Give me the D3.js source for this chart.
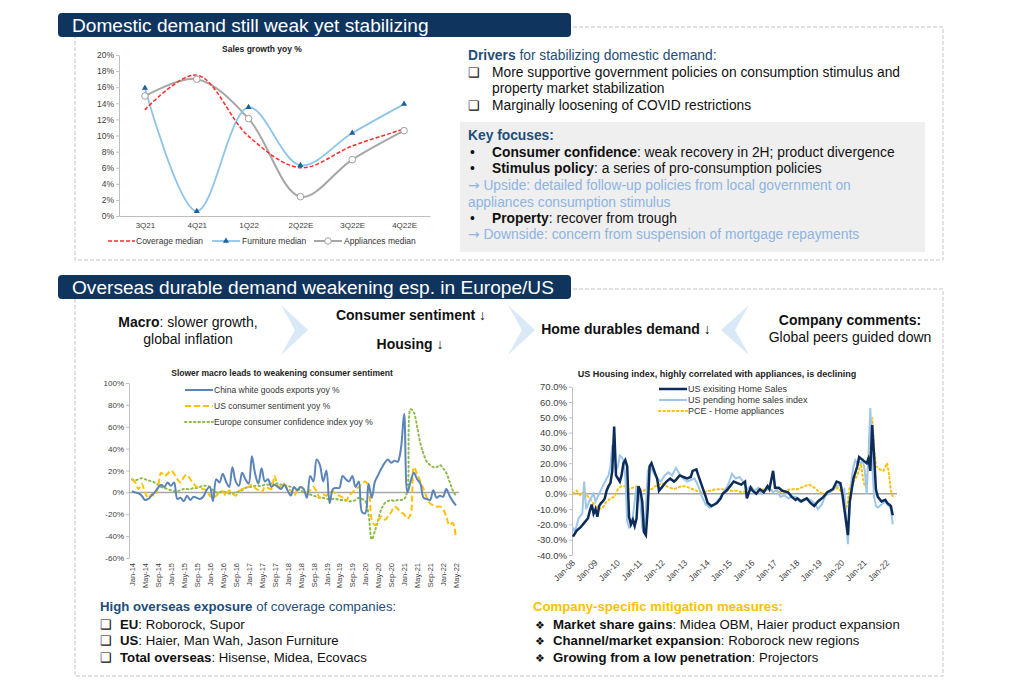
<!DOCTYPE html>
<html>
<head>
<meta charset="utf-8">
<script src="https://cdn.jsdelivr.net/npm/d3@7"></script>
<style>
  body { margin: 0; background: #fff; }
  text { font-family: "Liberation Sans", Arial, sans-serif; }
</style>
</head>
<body>
<div id="slide"></div>
<script>
// ---------- data: domestic sales growth ----------
const quarters = ["3Q21", "4Q21", "1Q22", "2Q22E", "3Q22E", "4Q22E"];
const coverageMedian = [13.2, 17.5, 9.9, 6.0, 8.7, 10.8];
const furnitureMedian = [15.9, 0.6, 13.5, 6.3, 10.3, 13.9];
const appliancesMedian = [14.9, 17.0, 12.1, 2.4, 7.0, 10.6];
const salesTicks = [0, 2, 4, 6, 8, 10, 12, 14, 16, 18, 20];

// ---------- data: macro / consumer sentiment (monthly Jan-14 .. May-22) ----------
const macroTicks = ["Jan-14","May-14","Sep-14","Jan-15","May-15","Sep-15","Jan-16","May-16","Sep-16",
  "Jan-17","May-17","Sep-17","Jan-18","May-18","Sep-18","Jan-19","May-19","Sep-19","Jan-20","May-20",
  "Sep-20","Jan-21","May-21","Sep-21","Jan-22","May-22"];
const macroYTicks = [-60, -40, -20, 0, 20, 40, 60, 80, 100];
const chinaExports = [1,0,-1,-3,-7,-6,-3,0,4,7,5,9,6,9,-6,-5,-8,-3,-7,-4,-5,-6,-4,2,5,-8,12,9,17,10,
  5,23,10,6,18,12,8,33,17,8,22,10,12,5,7,5,3,7,2,-3,5,2,5,3,-5,15,10,30,25,10,
  20,-10,3,4,4,15,12,10,15,5,10,-18,-19,8,-5,10,16,22,27,30,27,29,28,40,72,0,10,18,12,8,
  -5,-6,-7,2,-5,-3,-4,3,-3,-8,-12];
const usSentiment = [12,9,3,8,0,-5,-2,-3,5,18,15,17,20,17,12,9,14,16,12,8,5,4,3,2,-3,-5,-3,0,1,-3,
  2,-1,-3,1,3,4,5,7,4,2,0,5,4,3,15,6,5,8,3,2,-3,2,5,3,0,2,5,1,-5,-2,
  -3,0,1,-2,-3,-5,-8,-3,0,3,5,8,10,5,-25,-30,-26,-22,-25,-22,-18,-13,-15,-18,-20,-24,-20,23,17,10,
  3,-5,-10,-12,-13,-13,-15,-22,-30,-28,-42];
const europeConfidence = [12,11,12,13,12,11,10,9,7,5,4,3,2,1,1,2,3,3,3,4,4,5,6,6,5,2,0,0,1,0,
  -1,-1,0,1,2,4,5,5,6,6,6,7,7,8,8,8,7,7,6,5,4,3,2,0,-1,-2,-3,-4,-5,-5,
  -6,-6,-6,-6,-7,-7,-7,-8,-8,-7,-5,-6,-8,-20,-43,-35,-25,-15,-10,-8,-7,-8,-7,-7,-6,2,76,73,60,45,
  35,28,25,23,23,25,22,18,10,2,-3];

// ---------- data: US housing (monthly) ----------
const housingTicks = ["Jan-08","Jan-09","Jan-10","Jan-11","Jan-12","Jan-13","Jan-14","Jan-15",
  "Jan-16","Jan-17","Jan-18","Jan-19","Jan-20","Jan-21","Jan-22"];
const housingYTicks = [-40, -30, -20, -10, 0, 10, 20, 30, 40, 50, 60, 70];
const existingSales = [["2008-01",-28],["2008-03",-24],["2008-05",-22],["2008-07",-19],["2008-09",-16],
  ["2008-10",-11],["2008-11",-7],["2008-12",-13],["2009-01",-10],["2009-02",-15],["2009-03",-8],
  ["2009-04",-6],["2009-05",-5],["2009-06",-3],["2009-07",2],["2009-08",5],["2009-09",7],["2009-10",15],
  ["2009-11",44],["2009-12",12],["2010-01",10],["2010-02",8],["2010-03",12],["2010-04",20],["2010-05",22],
  ["2010-06",18],["2010-07",-15],["2010-08",-20],["2010-09",-17],["2010-10",-21],["2010-11",-16],
  ["2010-12",5],["2011-01",2],["2011-02",-5],["2011-03",-25],["2011-04",-27],["2011-05",-10],["2011-06",18],
  ["2011-07",20],["2011-09",13],["2011-10",10],["2011-11",2],["2012-01",5],["2012-03",8],["2012-05",10],
  ["2012-07",8],["2012-08",9],["2012-10",12],["2012-12",11],["2013-02",10],["2013-04",11],["2013-05",15],
  ["2013-07",16],["2013-08",12],["2013-10",5],["2013-12",-2],["2014-01",-6],["2014-03",-8],["2014-06",-6],
  ["2014-08",-3],["2014-09",0],["2014-11",2],["2015-01",5],["2015-03",8],["2015-05",7],["2015-07",6],
  ["2015-09",8],["2015-10",-3],["2015-12",4],["2016-01",2],["2016-03",0],["2016-05",3],["2016-07",1],
  ["2016-09",5],["2016-10",3],["2016-12",15],["2017-01",4],["2017-03",4],["2017-05",2],["2017-08",1],
  ["2017-10",-2],["2017-12",-4],["2018-01",-3],["2018-03",-5],["2018-06",-3],["2018-08",-6],["2018-10",-8],
  ["2018-12",-5],["2019-03",-2],["2019-05",1],["2019-08",3],["2019-10",8],["2019-12",7],["2020-01",0],
  ["2020-03",-18],["2020-04",-27],["2020-05",-5],["2020-07",10],["2020-09",18],["2020-10",24],["2020-12",22],
  ["2021-02",20],["2021-03",23],["2021-04",15],["2021-05",45],["2021-06",25],["2021-07",3],["2021-08",-2],
  ["2021-10",-5],["2021-12",-4],["2022-01",-6],["2022-03",-8],["2022-04",-14]];
const pendingSales = [["2008-01",-22],["2008-02",-25],["2008-04",-16],["2008-06",-13],["2008-07",8],
  ["2008-08",-10],["2008-10",-4],["2008-12",0],["2009-01",-5],["2009-03",0],["2009-05",5],["2009-07",10],
  ["2009-08",12],["2009-09",18],["2009-10",32],["2009-11",28],["2009-12",15],["2010-01",18],["2010-02",25],
  ["2010-03",24],["2010-04",22],["2010-05",12],["2010-06",-18],["2010-07",-22],["2010-08",-20],["2010-09",-15],
  ["2010-10",-5],["2010-11",5],["2010-12",0],["2011-01",-5],["2011-02",-22],["2011-03",-25],["2011-04",-10],
  ["2011-05",15],["2011-06",18],["2011-08",14],["2011-10",10],["2011-12",8],["2012-02",12],["2012-04",14],
  ["2012-06",12],["2012-08",17],["2012-10",13],["2012-12",10],["2013-02",8],["2013-04",9],["2013-06",10],
  ["2013-08",5],["2013-10",-2],["2013-12",-7],["2014-02",-9],["2014-04",-8],["2014-06",-5],["2014-08",-2],
  ["2014-10",2],["2014-12",6],["2015-02",13],["2015-04",10],["2015-06",11],["2015-08",8],["2015-10",3],
  ["2015-12",5],["2016-02",2],["2016-04",4],["2016-06",0],["2016-08",2],["2016-10",4],["2016-12",1],
  ["2017-02",3],["2017-04",-2],["2017-06",-1],["2017-08",-3],["2017-10",-2],["2017-12",-2],["2018-02",-5],
  ["2018-04",-4],["2018-06",-3],["2018-08",-4],["2018-10",-6],["2018-12",-10],["2019-02",-7],["2019-04",-1],
  ["2019-06",0],["2019-08",3],["2019-10",5],["2019-12",6],["2020-01",2],["2020-02",3],["2020-03",-15],
  ["2020-04",-33],["2020-05",-10],["2020-06",10],["2020-07",18],["2020-08",22],["2020-09",20],["2020-10",21],
  ["2020-11",20],["2020-12",22],["2021-01",15],["2021-02",0],["2021-03",25],["2021-04",56],["2021-05",20],
  ["2021-06",-2],["2021-07",-8],["2021-08",-9],["2021-10",-7],["2021-12",-5],["2022-01",-7],["2022-02",-8],
  ["2022-03",-10],["2022-04",-20]];
const pceAppliances = [["2008-01",0],["2008-03",2],["2008-05",-1],["2008-07",2],["2008-09",-2],["2008-11",-5],
  ["2009-01",-8],["2009-03",-10],["2009-05",-9],["2009-07",-5],["2009-09",-3],["2009-11",-2],["2010-01",3],
  ["2010-03",5],["2010-05",5],["2010-07",3],["2010-09",4],["2010-11",5],["2011-01",3],["2011-03",2],
  ["2011-05",4],["2011-07",3],["2011-09",5],["2011-11",6],["2012-01",7],["2012-03",5],["2012-05",4],
  ["2012-07",3],["2012-09",4],["2012-11",5],["2013-01",5],["2013-03",4],["2013-05",3],["2013-07",2],
  ["2013-09",1],["2013-11",1],["2014-01",2],["2014-03",2],["2014-05",3],["2014-09",3],["2015-01",2],
  ["2015-05",2],["2015-07",1],["2016-01",2],["2016-05",3],["2017-01",2],["2017-05",1],["2017-09",3],
  ["2018-01",3],["2018-05",5],["2018-07",6],["2018-09",5],["2018-11",3],["2019-01",1],["2019-03",0],
  ["2019-05",0],["2019-07",2],["2019-09",3],["2019-11",4],["2020-01",0],["2020-03",-10],["2020-04",-5],
  ["2020-05",5],["2020-07",8],["2020-09",12],["2020-11",20],["2020-12",10],["2021-01",5],["2021-02",10],
  ["2021-03",20],["2021-04",40],["2021-05",50],["2021-06",30],["2021-07",18],["2021-09",16],["2021-11",15],
  ["2022-01",20],["2022-02",12],["2022-03",2],["2022-04",-2]];

const navy = "#0f355e", textNavy = "#1f4e79";

const svg = d3.select("#slide").append("svg")
  .attr("width", 1024).attr("height", 680)
  .style("background", "#fff");

// ---------- frames and headers ----------
function sectionFrame(y0, y1, title, hy) {
  svg.append("rect").attr("x", 75).attr("y", y0).attr("width", 868).attr("height", y1 - y0)
    .attr("fill", "none").attr("stroke", "#c4c4c4").attr("stroke-dasharray", "4,2");
  svg.append("rect").attr("x", 58).attr("y", hy).attr("width", 513).attr("height", 24)
    .attr("rx", 4).attr("fill", navy);
  svg.append("text").attr("x", 72).attr("y", hy + 19).attr("font-size", 19.1)
    .attr("fill", "#fff").text(title);
}
sectionFrame(27, 260, "Domestic demand still weak yet stabilizing", 13);
sectionFrame(289, 676, "Overseas durable demand weakening esp. in Europe/US", 275);

// helper for mixed-weight lines of text
function richLine(x, y, parts, size, anchor) {
  const t = svg.append("text").attr("x", x).attr("y", y).attr("font-size", size || 13.8)
    .attr("text-anchor", anchor || "start");
  parts.forEach(p => {
    t.append("tspan").attr("font-weight", p.b ? "bold" : null)
      .attr("font-family", p.f || null)
      .attr("fill", p.c || "#111").text(p.t);
  });
  return t;
}

// ---------- top chart: sales growth ----------
const xQ = d3.scalePoint().domain(quarters).range([119, 430]).padding(0.5);
const yS = d3.scaleLinear().domain([0, 20]).range([216, 55]);

svg.append("text").attr("x", 262).attr("y", 52).attr("text-anchor", "middle")
  .attr("font-size", 8.5).attr("font-weight", "bold").attr("fill", "#222").text("Sales growth yoy %");

const gyS = svg.append("g").attr("transform", "translate(119,0)")
  .call(d3.axisLeft(yS).tickValues(salesTicks).tickFormat(d => d + "%").tickSize(3).tickSizeOuter(0));
gyS.selectAll("path,line").attr("stroke", "#bfbfbf");
gyS.selectAll("text").attr("font-size", 8.5).attr("fill", "#404040").attr("x", -5);

const gxS = svg.append("g").attr("transform", "translate(0,216)")
  .call(d3.axisBottom(xQ).tickSize(0).tickPadding(6).tickSizeOuter(0));
gxS.select("path").attr("stroke", "#bfbfbf");
gxS.selectAll("text").attr("font-size", 8).attr("fill", "#404040");

const lineS = d3.line().x((d, i) => xQ(quarters[i])).y(d => yS(d)).curve(d3.curveCatmullRom.alpha(0.5));
svg.append("path").datum(appliancesMedian).attr("d", lineS).attr("fill", "none")
  .attr("stroke", "#a6a6a6").attr("stroke-width", 2);
svg.append("path").datum(furnitureMedian).attr("d", lineS).attr("fill", "none")
  .attr("stroke", "#8fc4ea").attr("stroke-width", 1.8);
svg.append("path").datum(coverageMedian).attr("d", lineS).attr("fill", "none")
  .attr("stroke", "#ff2b2b").attr("stroke-width", 1.5).attr("stroke-dasharray", "4,2");
svg.selectAll(".appl").data(appliancesMedian).enter().append("circle")
  .attr("cx", (d, i) => xQ(quarters[i])).attr("cy", d => yS(d)).attr("r", 3.3)
  .attr("fill", "#fff").attr("stroke", "#a0a0a0").attr("stroke-width", 1);
svg.selectAll(".furn").data(furnitureMedian).enter().append("path")
  .attr("d", d3.symbol(d3.symbolTriangle).size(16))
  .attr("transform", (d, i) => `translate(${xQ(quarters[i])},${yS(d)})`).attr("fill", "#1f5fa0");

// legend
const legS = svg.append("g").attr("font-size", 8.5);
legS.append("line").attr("x1", 108).attr("x2", 135).attr("y1", 241).attr("y2", 241)
  .attr("stroke", "#ff2b2b").attr("stroke-width", 1.5).attr("stroke-dasharray", "4,2");
legS.append("text").attr("x", 136).attr("y", 244).attr("fill", "#333").text("Coverage median");
legS.append("line").attr("x1", 212).attr("x2", 240).attr("y1", 241).attr("y2", 241)
  .attr("stroke", "#8fc4ea").attr("stroke-width", 1.8);
legS.append("path").attr("d", d3.symbol(d3.symbolTriangle).size(16))
  .attr("transform", "translate(226,241)").attr("fill", "#1f5fa0");
legS.append("text").attr("x", 242).attr("y", 244).attr("fill", "#333").text("Furniture median");
legS.append("line").attr("x1", 314).attr("x2", 342).attr("y1", 241).attr("y2", 241)
  .attr("stroke", "#a6a6a6").attr("stroke-width", 2);
legS.append("circle").attr("cx", 328).attr("cy", 241).attr("r", 3.3)
  .attr("fill", "#fff").attr("stroke", "#a0a0a0");
legS.append("text").attr("x", 344).attr("y", 244).attr("fill", "#333").text("Appliances median");

// ---------- top right text ----------
const lightBlue = "#8db4e2";
const arrowFont = "DejaVu Sans";
richLine(468, 60, [{t: "Drivers", b: 1, c: textNavy}, {t: " for stabilizing domestic demand:", c: textNavy}]);
richLine(468, 77, [{t: "\u2751"}], 13);
richLine(492, 77, [{t: "More supportive government policies on consumption stimulus and"}]);
richLine(492, 93, [{t: "property market stabilization"}]);
richLine(468, 110, [{t: "\u2751"}], 13);
richLine(492, 110, [{t: "Marginally loosening of COVID restrictions"}]);

svg.append("rect").attr("x", 460).attr("y", 122).attr("width", 465).attr("height", 130).attr("fill", "#efefef");
richLine(468, 140, [{t: "Key focuses:", b: 1, c: textNavy}]);
richLine(470, 157, [{t: "\u2022"}]);
richLine(492, 157, [{t: "Consumer confidence", b: 1}, {t: ": weak recovery in 2H; product divergence"}]);
richLine(470, 173, [{t: "\u2022"}]);
richLine(492, 173, [{t: "Stimulus policy", b: 1}, {t: ": a series of pro-consumption policies"}]);
richLine(468, 190, [{t: "\u2192", f: arrowFont, c: lightBlue},
  {t: " Upside: detailed follow-up policies from local government on", c: lightBlue}]);
richLine(468, 207, [{t: "appliances consumption stimulus", c: lightBlue}]);
richLine(470, 223, [{t: "\u2022"}]);
richLine(492, 223, [{t: "Property", b: 1}, {t: ": recover from trough"}]);
richLine(468, 239, [{t: "\u2192", f: arrowFont, c: lightBlue},
  {t: " Downside: concern from suspension of mortgage repayments", c: lightBlue}]);

// ---------- flow row ----------
const chev = "#d9e9f7";
svg.append("path").attr("d", "M281,305 L308,330 L281,355 L295,330 Z").attr("fill", chev);
svg.append("path").attr("d", "M508,305 L535,330 L508,355 L522,330 Z").attr("fill", chev);
svg.append("path").attr("d", "M749,305 L721,330 L749,355 L735,330 Z").attr("fill", chev);
richLine(188, 327, [{t: "Macro", b: 1}, {t: ": slower growth,"}], 14, "middle");
richLine(188, 344, [{t: "global inflation"}], 14, "middle");
richLine(411, 320, [{t: "Consumer sentiment", b: 1}, {t: " \u2193"}], 14, "middle");
richLine(410, 349, [{t: "Housing", b: 1}, {t: " \u2193"}], 14, "middle");
richLine(626, 334, [{t: "Home durables demand", b: 1}, {t: " \u2193"}], 14, "middle");
richLine(850, 325, [{t: "Company comments:", b: 1}], 14, "middle");
richLine(850, 342, [{t: "Global peers guided down"}], 14, "middle");

// ---------- bottom left chart: macro ----------
const monthsM = d3.timeMonth.range(new Date(2014, 0, 1), new Date(2022, 5, 1)).map(d3.timeFormat("%b-%y"));
const xM = d3.scalePoint().domain(monthsM).range([132, 456]);
const yM = d3.scaleLinear().domain([-60, 100]).range([558, 383]);

svg.append("text").attr("x", 282).attr("y", 376).attr("text-anchor", "middle")
  .attr("font-size", 8.5).attr("font-weight", "bold").attr("fill", "#222")
  .text("Slower macro leads to weakening consumer sentiment");

const gyM = svg.append("g").attr("transform", "translate(129,0)")
  .call(d3.axisLeft(yM).tickValues(macroYTicks).tickFormat(d => d + "%").tickSize(3).tickSizeOuter(0));
gyM.selectAll("path,line").attr("stroke", "#bfbfbf");
gyM.selectAll("text").attr("font-size", 8).attr("fill", "#404040").attr("x", -5);

svg.append("line").attr("x1", 129).attr("x2", 459).attr("y1", yM(0)).attr("y2", yM(0))
  .attr("stroke", "#a6a6a6").attr("stroke-width", 1.5);

const gxM = svg.append("g").attr("transform", "translate(0,558)")
  .call(d3.axisBottom(xM).tickValues(macroTicks).tickSize(0).tickSizeOuter(0));
gxM.select("path").remove();
gxM.selectAll("text").attr("font-size", 7.5).attr("fill", "#404040")
  .attr("transform", "rotate(-90)").attr("text-anchor", "end")
  .attr("x", -5).attr("y", 0).attr("dy", "0.35em");

const lineM = d3.line().x((d, i) => xM(monthsM[i])).y(d => yM(d)).curve(d3.curveCatmullRom.alpha(0.5));
svg.append("path").datum(europeConfidence).attr("d", lineM).attr("fill", "none")
  .attr("stroke", "#8dbb4a").attr("stroke-width", 2).attr("stroke-dasharray", "1.5,3")
  .attr("stroke-linecap", "round");
svg.append("path").datum(usSentiment).attr("d", lineM).attr("fill", "none")
  .attr("stroke", "#ffc000").attr("stroke-width", 2).attr("stroke-dasharray", "6,3");
svg.append("path").datum(chinaExports).attr("d", lineM).attr("fill", "none")
  .attr("stroke", "#5b84b8").attr("stroke-width", 2);

const legM = svg.append("g").attr("font-size", 8.5).attr("fill", "#333");
legM.append("line").attr("x1", 185).attr("x2", 213).attr("y1", 390).attr("y2", 390)
  .attr("stroke", "#5b84b8").attr("stroke-width", 2);
legM.append("text").attr("x", 214).attr("y", 393).text("China white goods exports yoy %");
legM.append("line").attr("x1", 185).attr("x2", 213).attr("y1", 406).attr("y2", 406)
  .attr("stroke", "#ffc000").attr("stroke-width", 2).attr("stroke-dasharray", "6,3");
legM.append("text").attr("x", 214).attr("y", 409).text("US consumer sentiment yoy %");
legM.append("line").attr("x1", 185).attr("x2", 213).attr("y1", 422).attr("y2", 422)
  .attr("stroke", "#8dbb4a").attr("stroke-width", 2).attr("stroke-dasharray", "1.5,3")
  .attr("stroke-linecap", "round");
legM.append("text").attr("x", 214).attr("y", 425).text("Europe consumer confidence index yoy %");

// ---------- bottom right chart: US housing ----------
const parseM = d3.timeParse("%Y-%m");
const parseTick = d3.timeParse("%b-%y");
const xH = d3.scaleTime().domain([new Date(2008, 0, 1), new Date(2022, 4, 1)]).range([573, 894.6]);
const yH = d3.scaleLinear().domain([-40, 70]).range([555, 386.7]);

svg.append("text").attr("x", 717).attr("y", 377).attr("text-anchor", "middle")
  .attr("font-size", 9).attr("font-weight", "bold").attr("fill", "#222")
  .text("US Housing index, highly correlated with appliances, is declining");

const gyH = svg.append("g").attr("transform", "translate(572,0)")
  .call(d3.axisLeft(yH).tickValues(housingYTicks).tickFormat(d => d.toFixed(1) + "%").tickSize(3).tickSizeOuter(0));
gyH.selectAll("path,line").attr("stroke", "#bfbfbf");
gyH.selectAll("text").attr("font-size", 9.5).attr("fill", "#404040").attr("x", -5);

svg.append("line").attr("x1", 572).attr("x2", 897).attr("y1", yH(0)).attr("y2", yH(0))
  .attr("stroke", "#a6a6a6").attr("stroke-width", 1.5);

const gxH = svg.append("g").attr("transform", "translate(0,557)")
  .call(d3.axisBottom(xH).tickValues(housingTicks.map(parseTick)).tickFormat(d3.timeFormat("%b-%y"))
    .tickSize(0).tickSizeOuter(0));
gxH.select("path").remove();
gxH.selectAll("text").attr("font-size", 8.5).attr("fill", "#404040")
  .attr("transform", "rotate(-45)").attr("text-anchor", "end")
  .attr("x", -3).attr("y", 3).attr("dy", "0.35em");

const lineH = d3.line().x(d => xH(parseM(d[0]))).y(d => yH(d[1]));
svg.append("path").datum(pceAppliances).attr("d", lineH).attr("fill", "none")
  .attr("stroke", "#ffc000").attr("stroke-width", 2).attr("stroke-dasharray", "1.5,3")
  .attr("stroke-linecap", "round");
svg.append("path").datum(pendingSales).attr("d", lineH).attr("fill", "none")
  .attr("stroke", "#9dc6ea").attr("stroke-width", 2);
svg.append("path").datum(existingSales).attr("d", lineH).attr("fill", "none")
  .attr("stroke", "#0d2c5a").attr("stroke-width", 2.5);

const legH = svg.append("g").attr("font-size", 9).attr("fill", "#333");
legH.append("line").attr("x1", 659).attr("x2", 687).attr("y1", 389).attr("y2", 389)
  .attr("stroke", "#0d2c5a").attr("stroke-width", 2.5);
legH.append("text").attr("x", 688).attr("y", 392).text("US exisiting Home Sales");
legH.append("line").attr("x1", 659).attr("x2", 687).attr("y1", 400).attr("y2", 400)
  .attr("stroke", "#9dc6ea").attr("stroke-width", 2);
legH.append("text").attr("x", 688).attr("y", 403).text("US pending home sales index");
legH.append("line").attr("x1", 659).attr("x2", 687).attr("y1", 411).attr("y2", 411)
  .attr("stroke", "#ffc000").attr("stroke-width", 2).attr("stroke-dasharray", "1.5,3")
  .attr("stroke-linecap", "round");
legH.append("text").attr("x", 688).attr("y", 414).text("PCE - Home appliances");

// ---------- bottom text blocks ----------
const fsB = 13.2;
richLine(100, 611, [{t: "High overseas exposure", b: 1, c: textNavy}, {t: " of coverage companies:", c: textNavy}], fsB);
richLine(100, 629, [{t: "\u2751"}], 13);
richLine(120, 629, [{t: "EU", b: 1}, {t: ": Roborock, Supor"}], fsB);
richLine(100, 645, [{t: "\u2751"}], 13);
richLine(120, 645, [{t: "US", b: 1}, {t: ": Haier, Man Wah, Jason Furniture"}], fsB);
richLine(100, 662, [{t: "\u2751"}], 13);
richLine(120, 662, [{t: "Total overseas", b: 1}, {t: ": Hisense, Midea, Ecovacs"}], fsB);

const gold = "#ffc000";
richLine(533, 611, [{t: "Company-specific mitigation measures:", b: 1, c: gold}], fsB);
richLine(535, 629, [{t: "\u2756"}], 11);
richLine(553, 629, [{t: "Market share gains", b: 1}, {t: ": Midea OBM, Haier product expansion"}], fsB);
richLine(535, 645, [{t: "\u2756"}], 11);
richLine(553, 645, [{t: "Channel/market expansion", b: 1}, {t: ": Roborock new regions"}], fsB);
richLine(535, 662, [{t: "\u2756"}], 11);
richLine(553, 662, [{t: "Growing from a low penetration", b: 1}, {t: ": Projectors"}], fsB);
</script>
</body>
</html>
